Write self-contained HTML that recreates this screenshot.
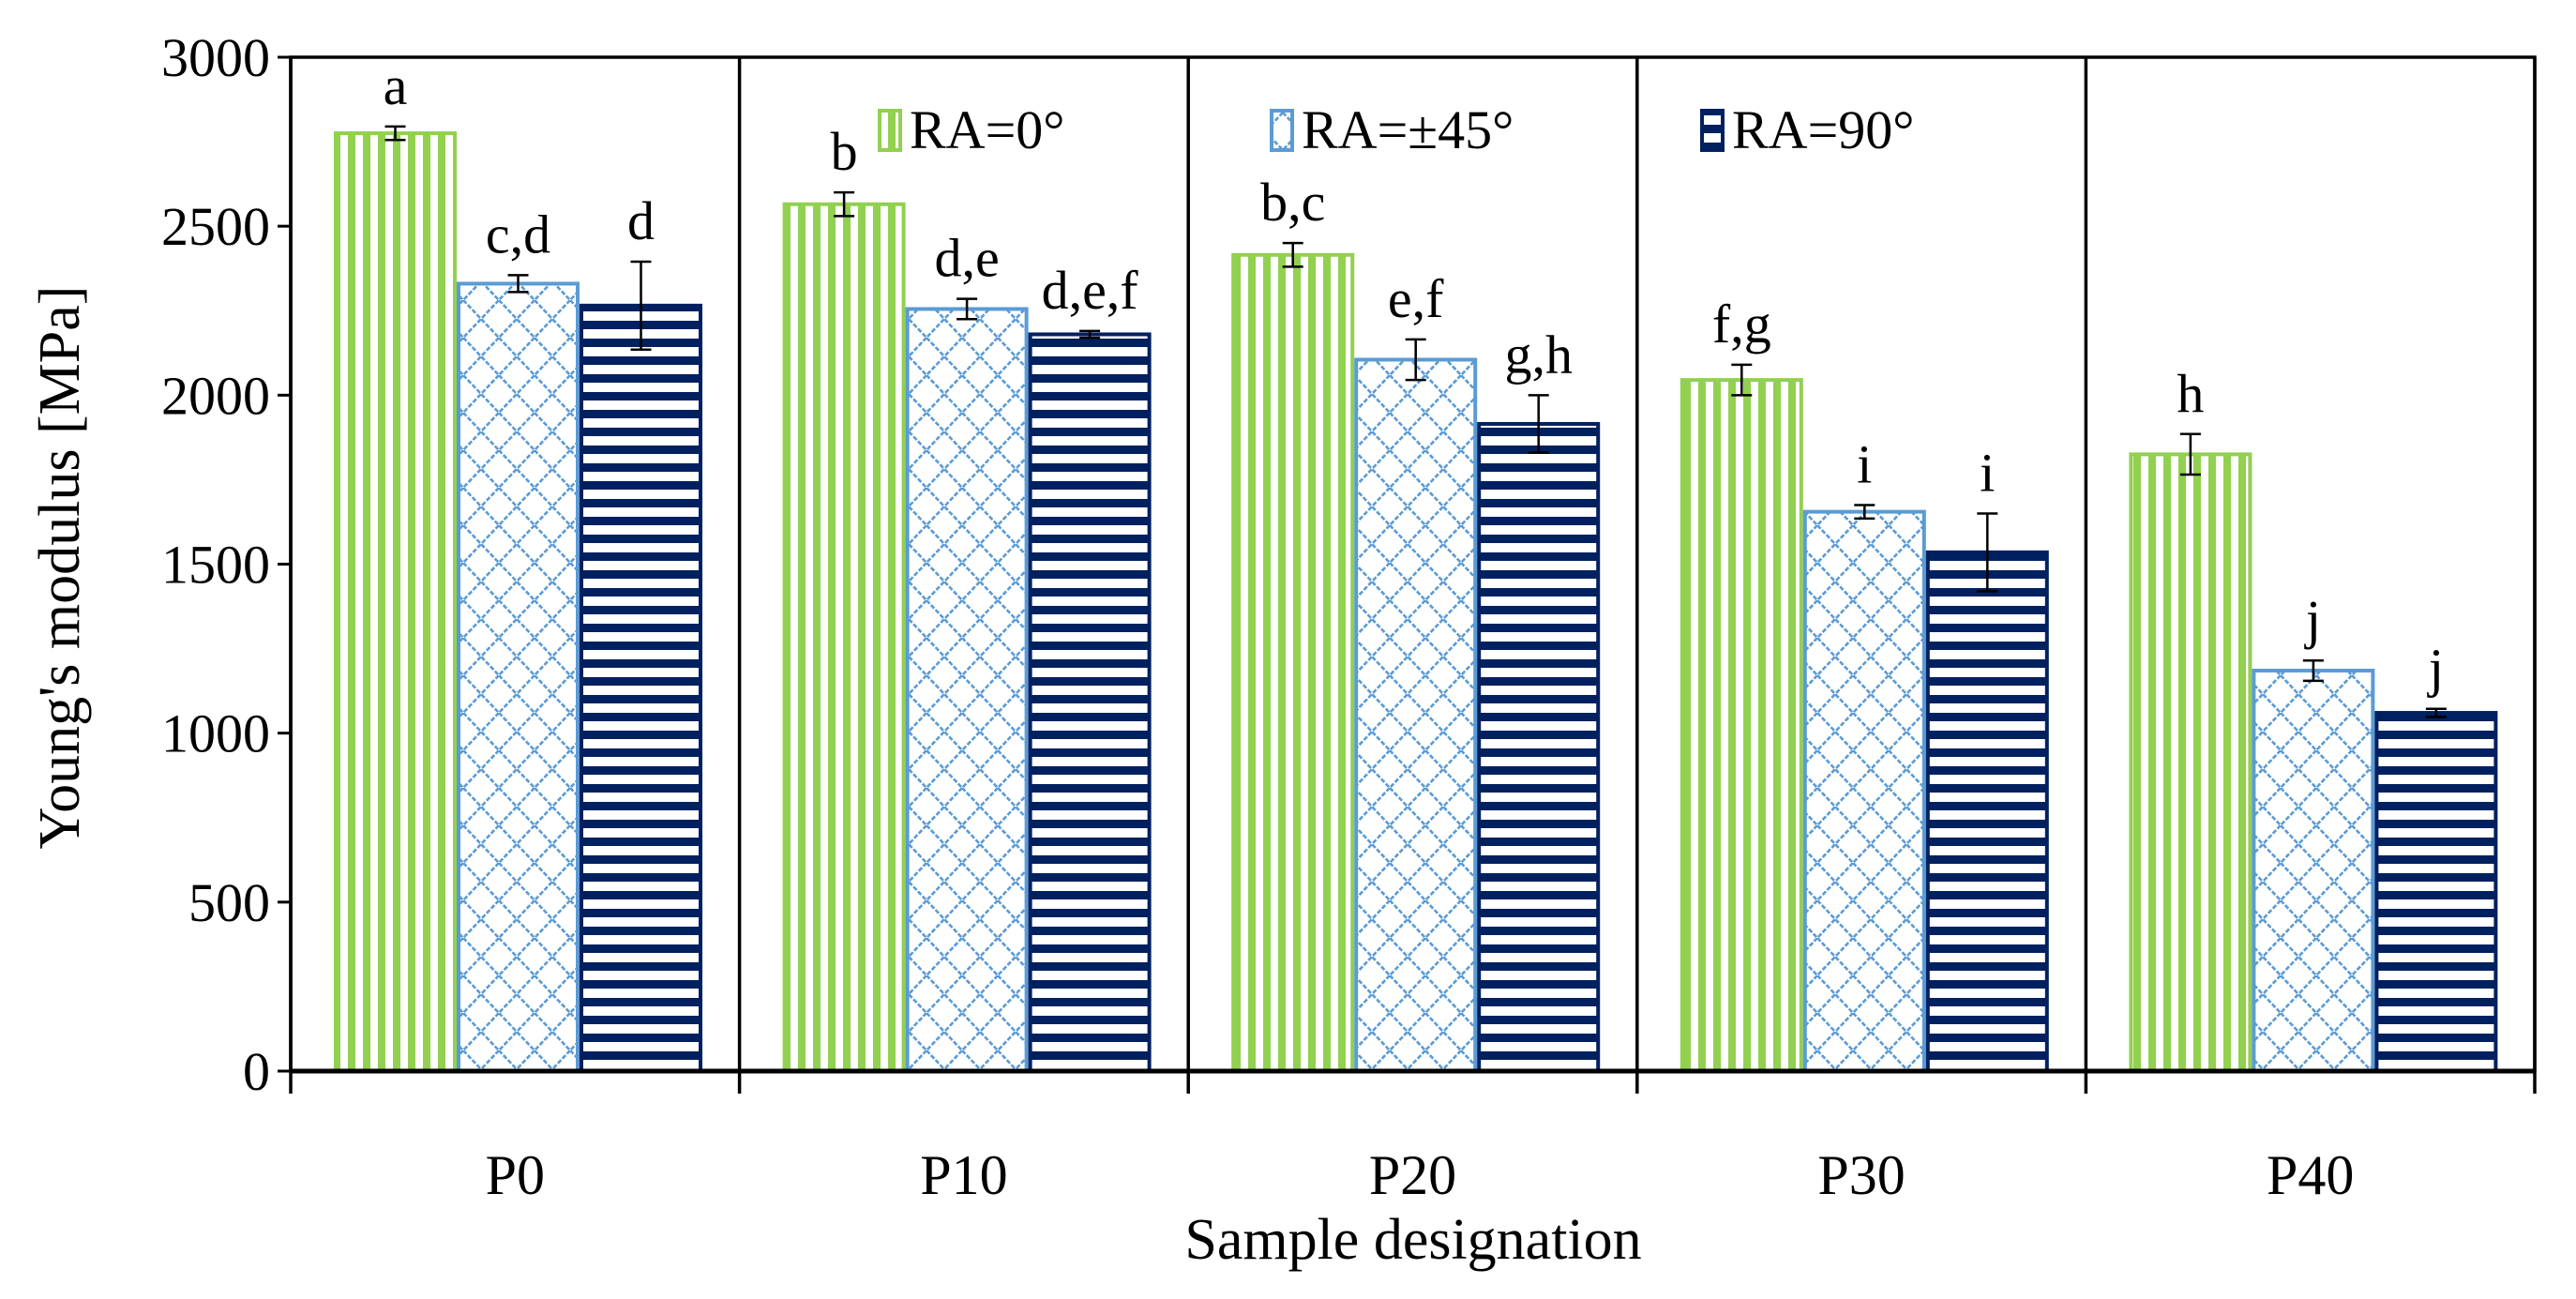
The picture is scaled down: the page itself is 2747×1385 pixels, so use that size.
<!DOCTYPE html>
<html><head><meta charset="utf-8"><style>
html,body{margin:0;padding:0;background:#fff}
svg{display:block;font-family:"Liberation Serif",serif}
</style></head><body>
<svg id="chart" width="2747" height="1385" viewBox="0 0 2747 1385" xmlns="http://www.w3.org/2000/svg">
<defs>
<pattern id="pGreen" patternUnits="userSpaceOnUse" width="16" height="16"><rect width="16" height="16" fill="#fff"/><rect x="3" width="8" height="16" fill="#92d050"/></pattern>
<pattern id="pBlue" patternUnits="userSpaceOnUse" width="38" height="40"><rect width="38" height="40" fill="#fff"/><path d="M0 0 L38 40 M38 0 L0 40" stroke="#5b9bd5" stroke-width="2.6" stroke-dasharray="5 2"/></pattern>
<pattern id="pNavy" patternUnits="userSpaceOnUse" width="19" height="19"><rect width="19" height="19" fill="#fff"/><rect y="0" width="19" height="9" fill="#002060"/></pattern>
</defs>
<g id="plot"></g>
</svg>
<script>
const categories=["P0","P10","P20","P30","P40"];
const seriesNames=["RA=0°","RA=±45°","RA=90°"];
const ra0=[2775,2565,2415,2045,1825];
const ra45=[2330,2255,2105,1655,1185];
const ra90=[2265,2180,1915,1535,1060];
const err0=[20,35,35,45,60];
const err45=[25,30,60,20,30];
const err90=[130,10,85,115,12];
const letters0=["a","b","b,c","f,g","h"];
const letters45=["c,d","d,e","e,f","i","j"];
const letters90=["d","d,e,f","g,h","i","j"];
const yTicks=[0,500,1000,1500,2000,2500,3000];

const NS="http://www.w3.org/2000/svg";
const L=310,R=2703,T=61,B=1142,yMax=3000;
const gw=(R-L)/categories.length, bw=131, off=46;
function y(v){return B-(v/yMax)*(B-T);}
function gx(i){return L+i*gw;}
const g=document.getElementById('plot');
function el(tag,attrs,parent){const e=document.createElementNS(NS,tag);for(const k in attrs)e.setAttribute(k,attrs[k]);(parent||g).appendChild(e);return e;}
const fills=["url(#pGreen)","url(#pBlue)","url(#pNavy)"];
const strokes=["#92d050","#5b9bd5","#002060"];
const vals=[ra0,ra45,ra90], errs=[err0,err45,err90], lets=[letters0,letters45,letters90];
categories.forEach((c,i)=>{
  for(let s=0;s<3;s++){
    const x=gx(i)+off+s*bw, v=vals[s][i];
    const r=el('rect',{x:x+2,y:y(v),width:bw-4,height:B-y(v),fill:fills[s],stroke:strokes[s],'stroke-width':4});
    
    
    const cx=x+bw/2,e=errs[s][i];
    const eb=el('path',{d:`M${cx} ${y(v+e)} V${y(v-e)} M${cx-11} ${y(v+e)} H${cx+11} M${cx-11} ${y(v-e)} H${cx+11}`,stroke:'#000','stroke-width':2.5,fill:'none'});
    
    
    const t=el('text',{x:cx,y:y(v+e)-24,'text-anchor':'middle','font-size':58});
    t.textContent=lets[s][i];
    
    
  }
  const lb=el('text',{x:gx(i)+gw/2,y:1273,'text-anchor':'middle','font-size':60});
  lb.textContent=c;
  
  
});
el('rect',{x:L,y:T,width:R-L,height:B-T,fill:'none',stroke:'#000','stroke-width':3.5});
for(let i=0;i<=categories.length;i++){
  el('line',{x1:gx(i),x2:gx(i),y1:T,y2:B+24,stroke:'#000','stroke-width':3.5});
}
el('line',{x1:L,x2:R,y1:B,y2:B,stroke:'#000','stroke-width':5});
yTicks.forEach(v=>{
  el('line',{x1:L-14,x2:L,y1:y(v),y2:y(v),stroke:'#000','stroke-width':3});
  const t=el('text',{x:L-22,y:y(v)+20,'text-anchor':'end','font-size':58});
  t.textContent=v;
  
  
});
const xt=el('text',{x:1507,y:1342,'text-anchor':'middle','font-size':62});
xt.textContent="Sample designation";


const yt=el('text',{x:0,y:0,'text-anchor':'middle','font-size':62,transform:'translate(84,605) rotate(-90)'});
yt.textContent="Young's modulus [MPa]";


const legX=[938,1356,1815];
seriesNames.forEach((n,s)=>{
  const lg=el('g',{});
  
  
  el('rect',{x:legX[s],y:118,width:22,height:42,fill:fills[s],stroke:strokes[s],'stroke-width':4},lg);
  const t=el('text',{x:legX[s]+32,y:158,'font-size':58},lg);
  t.textContent=n;
});
</script>
</body></html>
